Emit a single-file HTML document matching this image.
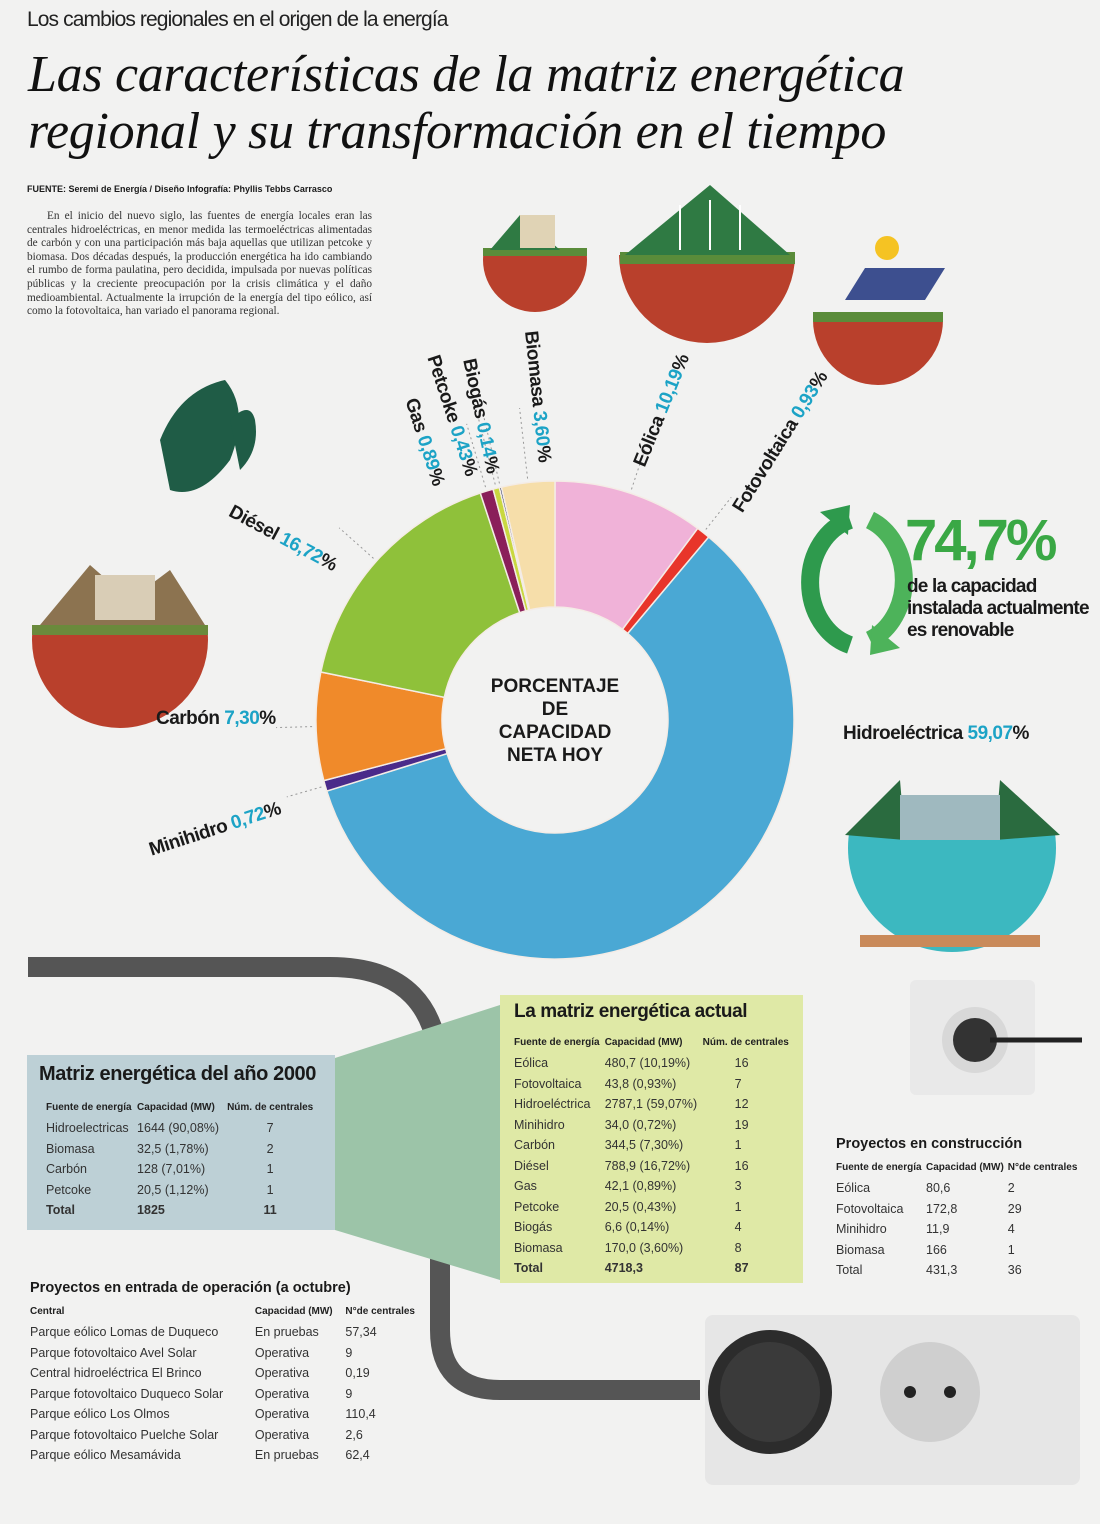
<!DOCTYPE html>
<html><head><meta charset="utf-8">
<style>
*{margin:0;padding:0;box-sizing:border-box}
body{width:1100px;height:1524px;position:relative;overflow:hidden;background:#f2f2f1;font-family:"Liberation Sans",sans-serif;color:#1a1a1a}
.a{position:absolute}
.lbl{position:absolute;font-weight:bold;font-size:19px;white-space:nowrap;transform-origin:left center;letter-spacing:-0.5px}
.lbl b{color:#1ca3c6}
table{border-collapse:collapse}
td{padding:0;height:20.5px;font-size:12.5px;color:#333;white-space:nowrap}
th{font-size:10px;text-align:left;font-weight:bold;height:22px;color:#222;white-space:nowrap}
</style></head><body>
<div class="a" style="left:27px;top:8px;font-size:21px;letter-spacing:-0.9px;color:#222">Los cambios regionales en el origen de la energía</div>
<div class="a" style="left:28px;top:46px;font-family:'Liberation Serif',serif;font-style:italic;font-size:52px;line-height:57px;color:#111;letter-spacing:-0.3px">Las características de la matriz energética<br>regional y su transformación en el tiempo</div>
<div class="a" style="left:27px;top:184px;font-size:9px;font-weight:bold">FUENTE: Seremi de Energía / Diseño Infografía: Phyllis Tebbs Carrasco</div>
<div class="a" style="left:27px;top:210px;width:345px;font-family:'Liberation Serif',serif;font-size:11.3px;line-height:13.6px;color:#333;text-align:justify">&nbsp;&nbsp;&nbsp;&nbsp;En el inicio del nuevo siglo, las fuentes de energía locales eran las centrales hidroeléctricas, en menor medida las termoeléctricas alimentadas de carbón y con una participación más baja aquellas que utilizan petcoke y biomasa. Dos décadas después, la producción energética ha ido cambiando el rumbo de forma paulatina, pero decidida, impulsada por nuevas políticas públicas y la creciente preocupación por la crisis climática y el daño medioambiental. Actualmente la irrupción de la energía del tipo eólico, así como la fotovoltaica, han variado el panorama regional.</div>

<svg class="a" style="left:0;top:0" width="1100" height="1524">
 <path d="M28 967 H330 Q440 967 440 1080 V1330 Q440 1390 500 1390 H700" stroke="#555" stroke-width="20" fill="none"/>
 <polygon points="335,1058 500,1005 500,1280 335,1230" fill="#9cc4a8"/>
 <rect x="910" y="980" width="125" height="115" rx="6" fill="#e9e9e9"/>
 <circle cx="975" cy="1040" r="33" fill="#d8d8d8"/><ellipse cx="975" cy="1040" rx="22" ry="22" fill="#333"/>
 <path d="M990 1040 H1082" stroke="#222" stroke-width="5"/>
 <rect x="705" y="1315" width="375" height="170" rx="8" fill="#e6e6e6"/>
 <circle cx="930" cy="1392" r="50" fill="#cfcfcf"/><circle cx="910" cy="1392" r="6" fill="#222"/><circle cx="950" cy="1392" r="6" fill="#222"/>
 <circle cx="770" cy="1392" r="62" fill="#2c2c2c"/><circle cx="770" cy="1392" r="50" fill="#3a3a3a"/>
 <g><circle cx="120" cy="640" r="88" fill="#b9402c"/><rect x="32" y="552" width="176" height="78" fill="#f2f2f1"/><rect x="32" y="625" width="176" height="10" fill="#6a8a3c"/><path d="M40 625 L90 565 L130 600 L170 570 L205 625Z" fill="#8c7350"/><rect x="95" y="575" width="60" height="45" fill="#d9cdb6"/></g>
 <g><path d="M160 440 Q180 390 225 380 Q250 410 230 460 Q200 500 170 490Z" fill="#1f5c46"/><path d="M230 420 Q250 400 255 420 Q260 450 240 470Z" fill="#1f5c46"/></g>
 <g><circle cx="535" cy="260" r="52" fill="#b9402c"/><rect x="480" y="205" width="110" height="50" fill="#f2f2f1"/><rect x="483" y="248" width="104" height="8" fill="#5a8c3a"/><path d="M490 250 L520 215 L560 250Z" fill="#2f7a43"/><rect x="520" y="215" width="35" height="33" fill="#e0d3b5"/></g>
 <g><circle cx="707" cy="255" r="88" fill="#b9402c"/><rect x="615" y="165" width="185" height="90" fill="#f2f2f1"/><rect x="620" y="252" width="175" height="12" fill="#5a8c3a"/><path d="M625 255 L710 185 L790 255Z" fill="#2f7a43"/><path d="M680 250 V205 M710 250 V200 M740 250 V205" stroke="#fff" stroke-width="2"/></g>
 <g><circle cx="878" cy="320" r="65" fill="#b9402c"/><rect x="810" y="250" width="140" height="65" fill="#f2f2f1"/><rect x="813" y="312" width="130" height="10" fill="#5a8c3a"/><polygon points="845,300 925,300 945,268 865,268" fill="#3d4f8f"/><circle cx="887" cy="248" r="12" fill="#f5c323"/></g>
 <g><circle cx="952" cy="848" r="104" fill="#3cb8c0"/><rect x="845" y="740" width="215" height="95" fill="#f2f2f1"/><path d="M845 835 L900 780 L905 840Z M1060 835 L1000 780 L995 840Z" fill="#2a6b3f"/><rect x="900" y="795" width="100" height="45" fill="#9fb9bf"/><rect x="860" y="935" width="180" height="12" fill="#c98a5a"/></g>
 <path d="M850 520 A55 65 0 0 0 850 645" stroke="#2e9a4d" stroke-width="18" fill="none"/>
 <path d="M870 520 A55 65 0 0 1 870 640" stroke="#4db35a" stroke-width="18" fill="none"/>
 <polygon points="820,512 850,505 848,535" fill="#2e9a4d"/><polygon points="900,648 870,655 872,625" fill="#4db35a"/>
</svg>

<svg class="a" style="left:0;top:0" width="1100" height="1000" id="donut"></svg>

<div class="a" style="left:905px;top:508px;font-size:58px;font-weight:bold;color:#3aa845;letter-spacing:-3px;line-height:66px">74,7%</div>
<div class="a" style="left:907px;top:576px;font-size:19px;font-weight:bold;line-height:22px;letter-spacing:-0.8px">de la capacidad<br>instalada actualmente<br>es renovable</div>

<div class="a" style="left:470px;top:675px;width:170px;text-align:center;font-weight:bold;font-size:19px;line-height:23px">PORCENTAJE<br>DE<br>CAPACIDAD<br>NETA HOY</div>

<div class="lbl" style="left:230px;top:500px;transform:rotate(28deg)">Diésel <b>16,72</b>%</div>
<div class="lbl" style="left:156px;top:708px">Carbón <b>7,30</b>%</div>
<div class="lbl" style="left:150px;top:840px;transform:rotate(-18deg)">Minihidro <b>0,72</b>%</div>
<div class="lbl" style="left:843px;top:723px">Hidroeléctrica <b>59,07</b>%</div>
<div class="lbl" style="left:410px;top:388px;transform:rotate(72deg)">Gas <b>0,89</b>%</div>
<div class="lbl" style="left:432px;top:345px;transform:rotate(72deg)">Petcoke <b>0,43</b>%</div>
<div class="lbl" style="left:468px;top:348px;transform:rotate(78deg)">Biogás <b>0,14</b>%</div>
<div class="lbl" style="left:530px;top:320px;transform:rotate(84deg)">Biomasa <b>3,60</b>%</div>
<div class="lbl" style="left:640px;top:455px;transform:rotate(-68deg)">Eólica <b>10,19</b>%</div>
<div class="lbl" style="left:738px;top:500px;transform:rotate(-58deg)">Fotovoltaica <b>0,93</b>%</div>

<div class="a" style="left:27px;top:1055px;width:308px;height:175px;background:#bdd0d6;padding:8px 12px">
 <div style="font-size:20px;font-weight:bold;letter-spacing:-0.4px;margin-bottom:10px">Matriz energética del año 2000</div>
 <table style="width:270px;margin-left:7px">
  <tr><th>Fuente de energía</th><th>Capacidad (MW)</th><th style="text-align:center">Núm. de centrales</th></tr>
  <tr><td>Hidroelectricas</td><td>1644 (90,08%)</td><td style="text-align:center">7</td></tr>
  <tr><td>Biomasa</td><td>32,5 (1,78%)</td><td style="text-align:center">2</td></tr>
  <tr><td>Carbón</td><td>128 (7,01%)</td><td style="text-align:center">1</td></tr>
  <tr><td>Petcoke</td><td>20,5 (1,12%)</td><td style="text-align:center">1</td></tr>
  <tr><td><b>Total</b></td><td><b>1825</b></td><td style="text-align:center"><b>11</b></td></tr>
 </table>
</div>
<div class="a" style="left:500px;top:995px;width:303px;height:288px;background:#dfe9a6;padding:6px 14px">
 <div style="font-size:19px;font-weight:bold;letter-spacing:-0.4px;margin-bottom:8px">La matriz energética actual</div>
 <table style="width:280px">
  <tr><th>Fuente de energía</th><th>Capacidad (MW)</th><th>Núm. de centrales</th></tr>
  <tr><td>Eólica</td><td>480,7 (10,19%)</td><td style="padding-left:32px">16</td></tr>
  <tr><td>Fotovoltaica</td><td>43,8 (0,93%)</td><td style="padding-left:32px">7</td></tr>
  <tr><td>Hidroeléctrica</td><td>2787,1 (59,07%)</td><td style="padding-left:32px">12</td></tr>
  <tr><td>Minihidro</td><td>34,0 (0,72%)</td><td style="padding-left:32px">19</td></tr>
  <tr><td>Carbón</td><td>344,5 (7,30%)</td><td style="padding-left:32px">1</td></tr>
  <tr><td>Diésel</td><td>788,9 (16,72%)</td><td style="padding-left:32px">16</td></tr>
  <tr><td>Gas</td><td>42,1 (0,89%)</td><td style="padding-left:32px">3</td></tr>
  <tr><td>Petcoke</td><td>20,5 (0,43%)</td><td style="padding-left:32px">1</td></tr>
  <tr><td>Biogás</td><td>6,6 (0,14%)</td><td style="padding-left:32px">4</td></tr>
  <tr><td>Biomasa</td><td>170,0 (3,60%)</td><td style="padding-left:32px">8</td></tr>
  <tr><td><b>Total</b></td><td><b>4718,3</b></td><td style="padding-left:32px"><b>87</b></td></tr>
 </table>
</div>
<div class="a" style="left:836px;top:1136px;width:250px">
 <div style="font-size:14.5px;font-weight:bold;margin-bottom:4px">Proyectos en construcción</div>
 <table style="width:245px">
  <tr><th>Fuente de energía</th><th>Capacidad (MW)</th><th>N°de centrales</th></tr>
  <tr><td>Eólica</td><td>80,6</td><td>2</td></tr>
  <tr><td>Fotovoltaica</td><td>172,8</td><td>29</td></tr>
  <tr><td>Minihidro</td><td>11,9</td><td>4</td></tr>
  <tr><td>Biomasa</td><td>166</td><td>1</td></tr>
  <tr><td>Total</td><td>431,3</td><td>36</td></tr>
 </table>
</div>
<div class="a" style="left:30px;top:1280px;width:400px">
 <div style="font-size:14.5px;font-weight:bold;margin-bottom:4px">Proyectos en entrada de operación (a octubre)</div>
 <table style="width:385px">
  <tr><th style="width:231px">Central</th><th style="width:93px">Capacidad (MW)</th><th>N°de centrales</th></tr>
  <tr><td>Parque eólico Lomas de Duqueco</td><td>En pruebas</td><td>57,34</td></tr>
  <tr><td>Parque fotovoltaico Avel Solar</td><td>Operativa</td><td>9</td></tr>
  <tr><td>Central hidroeléctrica El Brinco</td><td>Operativa</td><td>0,19</td></tr>
  <tr><td>Parque fotovoltaico Duqueco Solar</td><td>Operativa</td><td>9</td></tr>
  <tr><td>Parque eólico Los Olmos</td><td>Operativa</td><td>110,4</td></tr>
  <tr><td>Parque fotovoltaico Puelche Solar</td><td>Operativa</td><td>2,6</td></tr>
  <tr><td>Parque eólico Mesamávida</td><td>En pruebas</td><td>62,4</td></tr>
 </table>
</div>

<script>
const categories=["Eólica","Fotovoltaica","Hidroeléctrica","Minihidro","Carbón","Diésel","Gas","Petcoke","Biogás","Biomasa"];
const shares=[10.19,0.93,59.07,0.72,7.30,16.72,0.89,0.43,0.14,3.60];
const colors=["#f0b2d8","#e8352a","#4aa8d4","#4a2a8a","#f08a2a","#8fc13a","#8a1f5a","#c9d840","#1c2a5a","#f6deaa"];
const leaderLen=[55,45,45,40,40,50,70,75,90,75];
const svg=document.getElementById('donut');
const NS="http://www.w3.org/2000/svg";
const cx=555,cy=720,R=239,r=113;
const total=shares.reduce((a,b)=>a+b,0);
function pt(rad,ang){return [cx+rad*Math.sin(ang),cy-rad*Math.cos(ang)];}
let acc=0;
shares.forEach((v,i)=>{
 const a0=acc/total*2*Math.PI;acc+=v;const a1=acc/total*2*Math.PI;
 const large=(a1-a0)>Math.PI?1:0;
 const [x0,y0]=pt(R,a0),[x1,y1]=pt(R,a1),[x2,y2]=pt(r,a1),[x3,y3]=pt(r,a0);
 const p=document.createElementNS(NS,'path');
 p.setAttribute('d',`M${x0} ${y0} A${R} ${R} 0 ${large} 1 ${x1} ${y1} L${x2} ${y2} A${r} ${r} 0 ${large} 0 ${x3} ${y3}Z`);
 p.setAttribute('fill',colors[i]);p.setAttribute('stroke','#f4ece6');p.setAttribute('stroke-width','1.5');
 
 
 svg.appendChild(p);
 if(i!==2){
  const am=(a0+a1)/2;
  const [lx0,ly0]=pt(R+4,am),[lx1,ly1]=pt(R+leaderLen[i],am);
  const l=document.createElementNS(NS,'line');
  l.setAttribute('x1',lx0);l.setAttribute('y1',ly0);l.setAttribute('x2',lx1);l.setAttribute('y2',ly1);
  l.setAttribute('stroke','#999');l.setAttribute('stroke-dasharray','2 3');
  
  
  svg.appendChild(l);
 }
});
</script>
</body></html>
